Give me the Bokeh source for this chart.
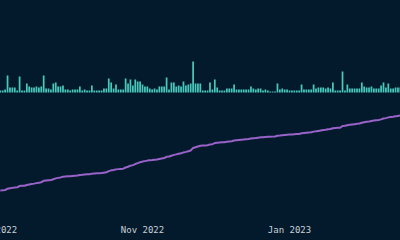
import datetime as dt
import numpy as np
from bokeh.plotting import figure
from bokeh.models import Range1d, FixedTicker, DatetimeTickFormatter
from bokeh.embed import file_html
from bokeh.resources import INLINE

# ---- data ----
start_date = dt.datetime(2022, 9, 3)
daily_counts = [
    2, 2, 3, 17, 5, 5, 5, 2, 16, 2, 2, 9, 6, 5, 5, 6, 5, 6, 17, 4,
    4, 3, 9, 10, 6, 6, 7, 3, 3, 2, 3, 3, 3, 6, 2, 3, 2, 2, 7, 2,
    2, 2, 2, 4, 4, 14, 10, 4, 8, 3, 3, 3, 14, 9, 13, 7, 13, 11, 11, 8,
    6, 6, 4, 3, 4, 3, 6, 6, 6, 15, 3, 10, 10, 6, 7, 6, 11, 7, 8, 9,
    31, 9, 9, 9, 2, 2, 2, 10, 3, 13, 5, 2, 2, 2, 4, 4, 4, 8, 3, 3,
    3, 3, 3, 3, 6, 4, 3, 4, 4, 2, 3, 2, 1, 1, 1, 9, 3, 4, 3, 3,
    2, 2, 2, 2, 2, 8, 3, 3, 3, 3, 8, 4, 5, 5, 5, 4, 5, 4, 10, 2,
    2, 2, 21, 2, 8, 4, 4, 4, 4, 4, 10, 6, 5, 5, 6, 4, 4, 4, 7, 10,
    5, 9, 4, 4, 5, 5, 5,
]
prior_total = 1000
tick_dates = [dt.datetime(2022, 9, 1), dt.datetime(2022, 11, 1), dt.datetime(2023, 1, 1)]
tick_labels = ["Sep 2022", "Nov 2022", "Jan 2023"]

dates = [start_date + dt.timedelta(days=i) for i in range(len(daily_counts))]
cumulative = prior_total + np.cumsum(daily_counts)

# ---- layout constants ----
OFFSET = 30               # part of the plot scrolled out to the left
W, H = 400 + OFFSET, 240
BOTTOM = 22
FH = H - BOTTOM           # frame height
BAR_BASE = 92             # pixel of bar baseline
LINE_START_PX, LINE_END_PX = 190, 115
PX_PER_DAY = 2.41
BG = "#031a2c"
TEXT = "#c9d1d9"

DAY_MS = 86400000
x_start = dt.datetime(2022, 11, 1) - dt.timedelta(days=(142 + OFFSET) / PX_PER_DAY)
x_end = x_start + dt.timedelta(days=W / PX_PER_DAY)

span = (cumulative[-1] - cumulative[0]) * FH / (LINE_START_PX - LINE_END_PX)
y_end = cumulative[0] + LINE_START_PX * span / FH
y_start = y_end - span

p = figure(width=W, height=H, output_backend="svg", toolbar_location=None,
           x_axis_type="datetime",
           x_range=Range1d(x_start, x_end), y_range=Range1d(y_start, y_end),
           min_border_left=0, min_border_right=0, min_border_top=0,
           min_border_bottom=BOTTOM)
p.styles = {"margin-left": f"-{OFFSET}px", "background-color": BG}
p.extra_y_ranges = {"bars": Range1d(-(FH - BAR_BASE), BAR_BASE)}

p.background_fill_color = BG
p.border_fill_color = BG
p.outline_line_color = None
p.grid.visible = False
p.yaxis.visible = False

p.vbar(x=dates, top=daily_counts, bottom=0, width=0.72 * DAY_MS,
       fill_color="#4ac8bb", line_color=None, y_range_name="bars")
p.line(x=dates, y=cumulative, line_color="#9a63c9", line_width=2)

ax = p.xaxis[0]
ax.ticker = FixedTicker(ticks=[d.timestamp() * 1000 for d in tick_dates])
ax.major_label_overrides = {d.timestamp() * 1000: t for d, t in zip(tick_dates, tick_labels)}
fmt = "%b %Y"
ax.formatter = DatetimeTickFormatter(milliseconds=fmt, seconds=fmt, minsec=fmt,
                                     minutes=fmt, hourmin=fmt, hours=fmt, days=fmt,
                                     months=fmt, years=fmt)
ax.axis_line_color = None
ax.major_tick_line_color = None
ax.minor_tick_line_color = None
ax.major_tick_out = 0
ax.major_label_standoff = 6
ax.major_label_text_font = "DejaVu Sans Mono"
ax.major_label_text_font_size = "9px"
ax.major_label_text_color = TEXT

open("out.html", "w").write(file_html(p, INLINE))
